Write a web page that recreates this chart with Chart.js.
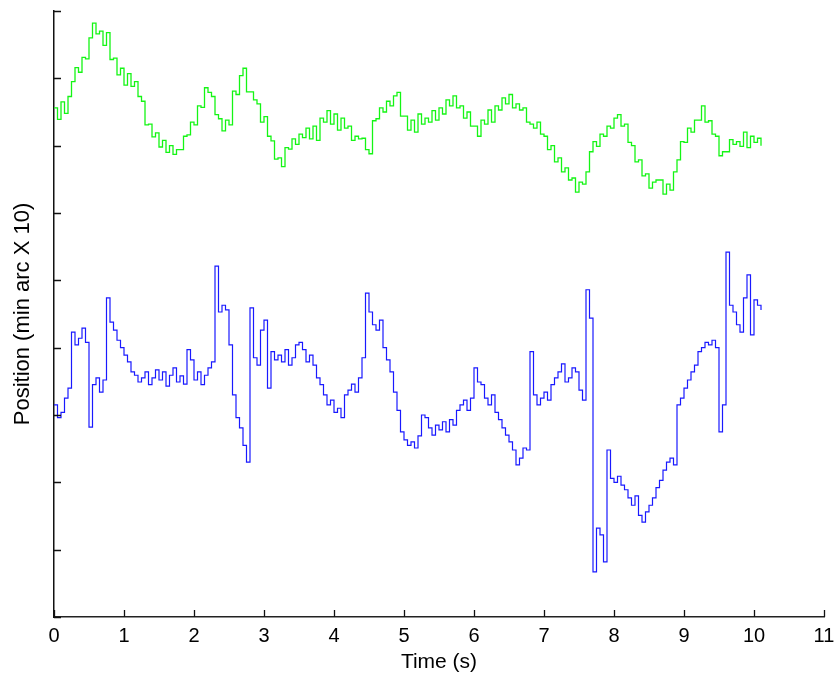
<!DOCTYPE html>
<html>
<head>
<meta charset="utf-8">
<title>Eye position traces</title>
<script src="https://cdn.jsdelivr.net/npm/chart.js@4/dist/chart.umd.min.js"></script>
<style>
    html, body { margin: 0; padding: 0; background: #fff; }
    #wrap { width: 834px; height: 680px; position: relative; }
</style>
</head>
<body>
<div id="wrap"><canvas id="posChart"></canvas></div>
<script>
// --- Dados ---
// amostras a cada 0.05 s, de 0 a 10.10 s
const sampleStep = 0.05;
const xTicks = [0, 1, 2, 3, 4, 5, 6, 7, 8, 9, 10, 11];
const yTicks = [0, 10, 20, 30, 40, 50, 60, 70, 80, 90];

// traço superior (verde)
const greenPos = [
    75.6, 73.9, 76.5, 74.8, 77.3, 79.5, 81.6, 80.9, 83.1, 82.9,
    86.0, 88.2, 86.6, 87.0, 84.9, 86.8, 82.8, 83.0, 80.5, 81.5,
    79.0, 80.7, 78.8, 79.5, 77.3, 76.6, 73.1, 73.2, 71.3, 71.9,
    69.8, 70.8, 69.0, 70.0, 68.7, 69.4, 69.4, 71.4, 71.6, 73.5,
    73.1, 75.9, 75.7, 78.6, 77.9, 77.3, 74.6, 74.0, 72.2, 73.8,
    73.1, 78.1, 77.6, 80.4, 81.5, 78.0, 78.0, 76.8, 76.2, 73.5,
    74.3, 71.4, 70.7, 68.0, 68.2, 66.9, 69.7, 69.5, 71.0, 70.2,
    71.7, 71.2, 72.6, 71.0, 72.9, 70.8, 74.1, 73.5, 75.2, 73.2,
    74.7, 72.3, 74.1, 72.6, 72.9, 70.8, 71.4, 71.0, 71.1, 69.4,
    68.8, 73.7, 74.0, 75.6, 75.0, 76.6, 75.9, 77.4, 77.9, 74.4,
    74.4, 72.3, 73.8, 72.0, 74.7, 73.2, 74.1, 73.5, 75.2, 73.8,
    75.6, 74.7, 76.8, 75.9, 77.4, 75.6, 75.9, 74.1, 75.0, 72.9,
    72.9, 71.4, 73.8, 73.2, 75.3, 73.5, 75.9, 75.3, 77.1, 76.2,
    77.6, 75.6, 76.2, 75.3, 75.6, 73.5, 73.2, 72.6, 73.5, 71.7,
    71.4, 69.4, 70.0, 67.6, 68.2, 66.1, 66.7, 64.9, 65.2, 63.1,
    64.6, 64.3, 66.1, 69.1, 70.6, 69.9, 71.7, 71.4, 72.9, 72.6,
    74.1, 74.6, 72.9, 73.2, 70.5, 70.0, 67.6, 67.9, 65.5, 65.8,
    63.7, 64.6, 64.9, 64.9, 62.8, 64.3, 63.4, 66.1, 67.9, 70.6,
    70.5, 72.6, 72.0, 73.8, 73.8, 75.9, 73.5, 73.7, 71.7, 71.4,
    68.5, 69.1, 69.1, 70.9, 70.2, 70.6, 69.9, 72.0, 69.7, 71.4,
    70.5, 71.1, 70.0
];

// traço inferior (azul)
const bluePos = [
    31.5, 29.6, 30.4, 32.5, 34.0, 42.3, 40.4, 41.4, 42.9, 40.8,
    28.2, 34.5, 35.5, 33.4, 35.2, 47.4, 43.8, 42.6, 41.1, 40.0,
    38.9, 37.9, 36.4, 35.9, 34.9, 35.5, 36.4, 34.5, 35.5, 36.7,
    35.2, 36.4, 34.3, 35.9, 37.0, 34.9, 35.8, 34.6, 39.7, 38.2,
    35.2, 36.4, 34.5, 35.9, 37.0, 37.9, 52.1, 45.3, 46.3, 45.6,
    40.4, 33.0, 29.6, 28.1, 25.5, 23.0, 45.9, 38.5, 37.4, 42.6,
    44.1, 34.0, 39.4, 38.2, 38.9, 37.9, 39.7, 37.4, 38.5, 40.4,
    40.8, 39.7, 37.9, 38.9, 37.4, 35.5, 34.5, 33.0, 31.5, 32.2,
    30.4, 31.0, 29.6, 33.0, 33.7, 34.6, 33.4, 35.5, 38.5, 48.1,
    45.3, 43.4, 42.6, 44.1, 40.0, 38.2, 36.4, 33.4, 30.7, 27.5,
    26.3, 25.5, 26.0, 25.1, 26.9, 30.0, 29.6, 28.1, 27.0, 28.5,
    27.8, 29.0, 27.5, 29.3, 28.5, 30.7, 31.5, 32.2, 30.7, 32.5,
    37.0, 34.9, 34.5, 32.5, 31.5, 33.0, 30.4, 29.3, 28.1, 27.0,
    26.0, 24.8, 22.6, 23.6, 25.1, 24.8, 39.4, 33.0, 31.5, 32.5,
    33.4, 32.2, 34.5, 35.5, 36.4, 37.6, 34.9, 35.5, 37.0, 36.4,
    33.7, 32.2, 48.6, 44.4, 6.7, 13.2, 12.2, 8.2, 24.8, 20.6,
    20.0, 20.9, 19.6, 18.9, 17.7, 16.6, 18.0, 15.1, 14.1, 15.6,
    16.6, 17.7, 19.2, 20.3, 21.8, 23.0, 23.6, 22.6, 31.5, 32.5,
    34.0, 35.2, 36.4, 37.4, 39.4, 40.0, 40.8, 40.4, 41.1, 40.0,
    27.5, 31.5, 54.2, 46.3, 45.3, 43.4, 42.3, 47.4, 50.8, 41.9,
    47.1, 46.3, 45.6
];

function toPoints(values) {
    return values.map((v, i) => ({ x: +(i * sampleStep).toFixed(2), y: v }));
}

// --- Marcas dos eixos voltadas para dentro ---
const inwardTicks = {
    id: 'inwardTicks',
    afterDraw(chart) {
        const { ctx, chartArea, scales } = chart;
        const len = 7;
        ctx.save();
        ctx.strokeStyle = '#111';
        ctx.lineWidth = 1.3;
        ctx.beginPath();
        xTicks.forEach(t => {
            const px = Math.round(scales.x.getPixelForValue(t)) + 0.5;
            ctx.moveTo(px, chartArea.bottom);
            ctx.lineTo(px, chartArea.bottom - len);
        });
        yTicks.forEach(t => {
            const py = Math.round(scales.y.getPixelForValue(t)) + 0.5;
            ctx.moveTo(chartArea.left, py);
            ctx.lineTo(chartArea.left + len, py);
        });
        ctx.stroke();
        ctx.restore();
    }
};

const fontFamily = '"Liberation Sans", Arial, Helvetica, sans-serif';

new Chart(document.getElementById('posChart'), {
    type: 'line',
    data: {
        datasets: [
            {
                label: 'verde',
                data: toPoints(greenPos),
                borderColor: 'rgb(20,245,20)',
                borderWidth: 1.3,
                pointRadius: 0,
                stepped: true,
                fill: false
            },
            {
                label: 'azul',
                data: toPoints(bluePos),
                borderColor: 'rgb(25,25,255)',
                borderWidth: 1.2,
                pointRadius: 0,
                stepped: true,
                fill: false
            }
        ]
    },
    options: {
        responsive: true,
        maintainAspectRatio: false,
        animation: false,
        layout: { padding: { left: 9.6, right: 0, top: 11, bottom: 1.5 } },
        plugins: {
            legend: { display: false },
            tooltip: { enabled: false }
        },
        scales: {
            x: {
                type: 'linear',
                min: 0,
                max: 11,
                afterBuildTicks: axis => { axis.ticks = xTicks.map(v => ({ value: v })); },
                // altura fixa do eixo e pouco espaço à direita para o "11"
                afterFit: axis => { axis.height = 61.5; axis.paddingRight = 10; },
                grid: { drawOnChartArea: false, drawTicks: false },
                border: { display: true, color: '#222', width: 1.5 },
                ticks: {
                    padding: 7,
                    color: '#000',
                    font: { family: fontFamily, size: 20 }
                },
                title: {
                    display: true,
                    text: 'Time (s)',
                    color: '#000',
                    padding: { top: 2, bottom: 4 },
                    font: { family: fontFamily, size: 21 }
                }
            },
            y: {
                type: 'linear',
                min: 0,
                max: 90,
                afterBuildTicks: axis => { axis.ticks = yTicks.map(v => ({ value: v })); },
                grid: { drawOnChartArea: false, drawTicks: false },
                border: { display: true, color: '#111', width: 1.5 },
                ticks: { display: false },
                title: {
                    display: true,
                    text: 'Position (min arc X 10)',
                    color: '#000',
                    padding: { top: 0, bottom: 18 },
                    font: { family: fontFamily, size: 22 }
                }
            }
        }
    },
    plugins: [inwardTicks]
});
</script>
</body>
</html>
